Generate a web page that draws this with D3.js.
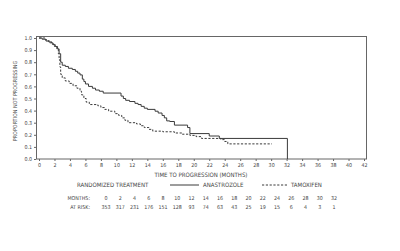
<!DOCTYPE html>
<html>
<head>
<meta charset="utf-8">
<script src="https://cdn.jsdelivr.net/npm/d3@7"></script>
<style>
  body { margin: 0; background: #fff; }
  svg text { font-family: "DejaVu Sans Condensed", "Liberation Sans Narrow", sans-serif; fill: #444; }
</style>
</head>
<body>
<div id="chart"></div>
<script>
// Kaplan-Meier curves
const anaTime = [0, 0.4, 0.9, 1.4, 1.8, 2.1, 2.4, 2.6, 2.8, 3.0, 3.4, 3.8, 4.3, 4.7, 5.0, 5.3, 5.6, 5.8, 6.0, 6.4, 6.9, 7.3, 7.8, 8.3, 10.6, 10.9, 11.2, 11.7, 12.4, 12.8, 13.2, 13.6, 14.0, 15.0, 15.4, 15.9, 16.2, 16.5, 16.9, 17.5, 19.2, 19.5, 22.0, 23.3, 32.1];
const anaProp = [1.0, 0.99, 0.975, 0.96, 0.945, 0.93, 0.91, 0.87, 0.80, 0.775, 0.765, 0.75, 0.74, 0.725, 0.71, 0.695, 0.66, 0.64, 0.62, 0.60, 0.585, 0.57, 0.56, 0.545, 0.52, 0.50, 0.485, 0.475, 0.46, 0.45, 0.435, 0.42, 0.41, 0.395, 0.38, 0.36, 0.34, 0.315, 0.31, 0.28, 0.26, 0.21, 0.19, 0.17, 0.0];

const tamTime = [0, 0.8, 1.2, 1.6, 2.0, 2.3, 2.5, 2.6, 2.7, 2.8, 3.0, 3.4, 3.9, 4.4, 4.9, 5.3, 5.5, 5.8, 6.1, 6.5, 7.6, 8.0, 8.5, 9.0, 9.8, 10.3, 10.7, 11.1, 11.5, 12.6, 13.1, 13.6, 14.2, 14.7, 16.0, 17.5, 18.5, 19.5, 20.3, 21.0, 23.5, 24.0, 24.4, 30.1];
const tamProp = [1.0, 0.985, 0.97, 0.95, 0.93, 0.91, 0.87, 0.82, 0.76, 0.70, 0.67, 0.645, 0.625, 0.605, 0.585, 0.56, 0.53, 0.50, 0.47, 0.45, 0.44, 0.425, 0.41, 0.395, 0.375, 0.36, 0.34, 0.32, 0.30, 0.29, 0.275, 0.26, 0.245, 0.23, 0.225, 0.215, 0.205, 0.195, 0.185, 0.17, 0.16, 0.145, 0.125, 0.125];

const riskMonths = [0, 2, 4, 6, 8, 10, 12, 14, 16, 18, 20, 22, 24, 26, 28, 30, 32];
const atRisk = [353, 317, 231, 176, 151, 128, 93, 74, 63, 43, 25, 19, 15, 6, 4, 3, 1];

const xTicks = d3.range(0, 43, 2);
const yTicks = d3.range(0, 11).map(d => d / 10);

const W = 400, H = 251;
const ink = '#3a3a3a';

const svg = d3.select('#chart').append('svg').attr('width', W).attr('height', H);

const x = d3.scaleLinear().domain([0, 42]).range([39, 364]);
const y = d3.scaleLinear().domain([0, 1]).range([159, 38]);

// frame
svg.append('rect')
    .attr('x', 36.5).attr('y', 36.5)
    .attr('width', 330).attr('height', 122.5)
    .attr('fill', 'none').attr('stroke', '#666').attr('stroke-width', 1);

const xAxis = svg.append('g')
    .attr('transform', 'translate(0,159)')
    .call(d3.axisBottom(x).tickValues(xTicks).tickSize(2).tickPadding(2));
const yAxis = svg.append('g')
    .attr('transform', 'translate(36,0)')
    .call(d3.axisLeft(y).tickValues(yTicks).tickSize(2).tickPadding(2).tickFormat(d3.format('.1f')));

[xAxis, yAxis].forEach(g => {
  g.select('.domain').remove();
  g.selectAll('line').attr('stroke', '#666');
  g.selectAll('text').attr('font-size', 5.3).attr('font-family', null).style('fill', '#444');
});

// curves
const line = d3.line().x(d => x(d[0])).y(d => y(d[1])).curve(d3.curveStepAfter);

svg.append('path')
    .datum(d3.zip(anaTime, anaProp))
    .attr('fill', 'none').attr('stroke', ink).attr('stroke-width', 1)
    .attr('d', line);

svg.append('path')
    .datum(d3.zip(tamTime, tamProp))
    .attr('fill', 'none').attr('stroke', ink).attr('stroke-width', 1)
    .attr('stroke-dasharray', '2.2,1.6')
    .attr('d', line);

// titles
svg.append('text')
    .attr('transform', 'translate(17,101) rotate(-90)')
    .attr('text-anchor', 'middle').attr('font-size', 5.4)
    .text('PROPORTION NOT PROGRESSING');

svg.append('text')
    .attr('x', 201).attr('y', 177)
    .attr('text-anchor', 'middle').attr('font-size', 6)
    .text('TIME TO PROGRESSION (MONTHS)');

// legend
const leg = svg.append('g').attr('font-size', 6);
leg.append('text').attr('x', 77).attr('y', 187.3).text('RANDOMIZED TREATMENT');
leg.append('line').attr('x1', 170).attr('x2', 199).attr('y1', 185).attr('y2', 185)
    .attr('stroke', ink).attr('stroke-width', 1);
leg.append('text').attr('x', 203).attr('y', 187.3).text('ANASTROZOLE');
leg.append('line').attr('x1', 262).attr('x2', 288).attr('y1', 185).attr('y2', 185)
    .attr('stroke', ink).attr('stroke-width', 1).attr('stroke-dasharray', '2.2,1.6');
leg.append('text').attr('x', 291).attr('y', 187.3).text('TAMOXIFEN');

// at-risk table
const col = d3.scalePoint().domain(riskMonths).range([106, 334]);
const tbl = svg.append('g').attr('font-size', 5.3);
tbl.append('text').attr('x', 90).attr('y', 200.3).attr('text-anchor', 'end').text('MONTHS:');
tbl.append('text').attr('x', 90).attr('y', 208.7).attr('text-anchor', 'end').text('AT RISK:');
tbl.selectAll('.m').data(riskMonths).join('text')
    .attr('x', d => col(d)).attr('y', 200.3).attr('text-anchor', 'middle')
    .text(d => d);
tbl.selectAll('.r').data(atRisk).join('text')
    .attr('x', (d, i) => col(riskMonths[i])).attr('y', 208.7).attr('text-anchor', 'middle')
    .text(d => d);
</script>
</body>
</html>
